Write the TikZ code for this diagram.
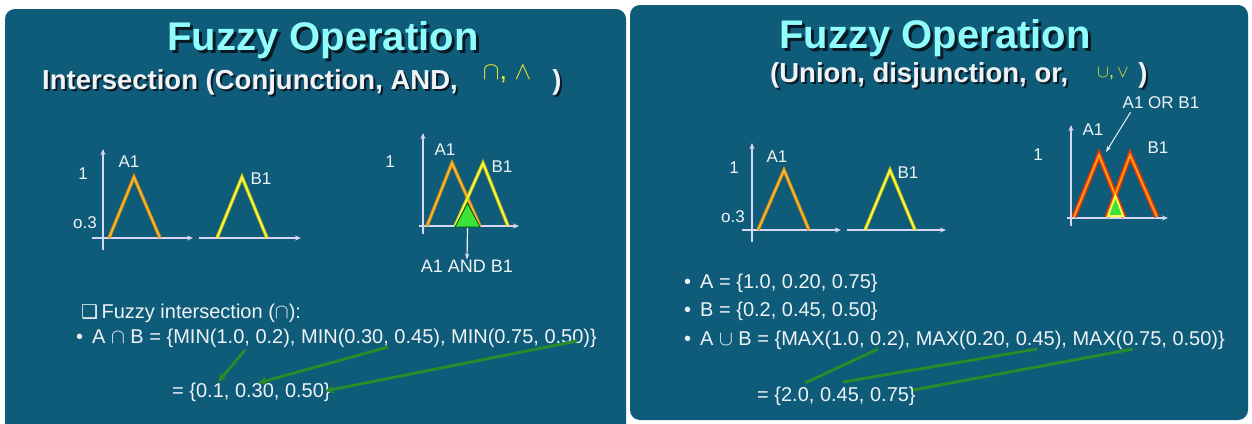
\documentclass[tikz,border=0pt]{standalone}
\usepackage{fontspec}
\setmainfont{Liberation Sans}
\newfontfamily\symfont{DejaVu Sans}
\usetikzlibrary{arrows.meta}
\definecolor{slide}{RGB}{14,92,122}
\definecolor{titlecyan}{RGB}{145,252,252}
\definecolor{shade}{RGB}{10,25,35}
\definecolor{axiscol}{RGB}{215,215,245}
\definecolor{txt}{RGB}{240,243,246}
\definecolor{symyellow}{RGB}{240,235,40}
\definecolor{aouter}{RGB}{215,140,20}
\definecolor{ainner}{RGB}{250,190,50}
\definecolor{bouter}{RGB}{205,200,10}
\definecolor{binner}{RGB}{255,255,90}
\definecolor{uouter}{RGB}{225,55,10}
\definecolor{uinner}{RGB}{255,160,20}
\definecolor{cutgreen}{RGB}{60,225,60}
\definecolor{linkgreen}{RGB}{40,140,40}
\tikzset{
  ttl/.style={font=\bfseries\fontsize{40}{44}\selectfont, inner sep=0pt},
  sub/.style={font=\bfseries\fontsize{27.5}{30}\selectfont, inner sep=0pt},
  lbl/.style={font=\fontsize{17}{19}\selectfont, text=txt, inner sep=0pt},
  body/.style={font=\fontsize{20}{22}\selectfont, text=txt, inner sep=0pt, anchor=west},
  axis/.style={draw=axiscol, line width=1.6pt, -{Stealth[length=6pt,width=5pt]}},
  aout/.style={draw=aouter, line width=3.4pt, line join=miter},
  ain/.style={draw=ainner, line width=1.3pt, line join=miter},
  bout/.style={draw=bouter, line width=3.4pt, line join=miter},
  bin/.style={draw=binner, line width=1.3pt, line join=miter},
  uout/.style={draw=uouter, line width=5pt, line join=miter},
  uin/.style={draw=uinner, line width=1.8pt, line join=miter},
  link/.style={draw=linkgreen, line width=2.8pt, -{Stealth[length=9pt,width=8pt]}},
  plainlink/.style={draw=linkgreen, line width=2.8pt},
  pointer/.style={draw=txt, line width=1pt, -{Stealth[length=6pt,width=4pt]}}
}
\begin{document}
\begin{tikzpicture}[x=1pt,y=-1pt]
\useasboundingbox (0,0) rectangle (1252,423);
\fill[white] (0,0) rectangle (1252,423);
% the two slide panels
\begin{scope}
  \clip (0,0) rectangle (1252,423);
  \fill[slide, rounded corners=10pt] (5,9) rectangle (626,445);
\end{scope}
\fill[slide, rounded corners=10pt] (630,5) rectangle (1248,420);

% ---------------- left slide: intersection ----------------
\node[ttl, text=shade] (lts) at (326,43) {Fuzzy Operation};
\node[ttl, text=titlecyan] (lt) at (323,40) {Fuzzy Operation};
\node[sub, text=shade, anchor=west] (lss) at (44,84) {Intersection (Conjunction, AND,};
\node[sub, text=txt, anchor=west] (ls) at (42,82) {Intersection (Conjunction, AND,};
\node[font=\fontsize{27}{29}\selectfont, text=symyellow, inner sep=0pt] (lsym) at (507,74) {$\cap$, $\wedge$};
\node[sub, text=shade] (lcps) at (559,84) {)};
\node[sub, text=txt] (lcp) at (557,82) {)};

% membership function A1
\coordinate (la0) at (103,250); \coordinate (la1) at (103,149);
\coordinate (lb0) at (92,238);  \coordinate (lb1) at (193,238);
\draw[axis] (la0) -- (la1);
\draw[axis] (lb0) -- (lb1);
\coordinate (a1l) at (109,238); \coordinate (a1p) at (134,177); \coordinate (a1r) at (160,238);
\draw[aout] (a1l) -- (a1p) -- (a1r);
\draw[ain] (a1l) -- (a1p) -- (a1r);
\node[lbl] (lone) at (83,174) {1};
\node[lbl] (lthree) at (85,223) {o.3};
\node[lbl] (la1t) at (129,162) {A1};

% membership function B1
\coordinate (lc0) at (199,238); \coordinate (lc1) at (301,238);
\draw[axis] (lc0) -- (lc1);
\coordinate (b1l) at (217,238); \coordinate (b1p) at (242,177); \coordinate (b1r) at (267,238);
\draw[bout] (b1l) -- (b1p) -- (b1r);
\draw[bin] (b1l) -- (b1p) -- (b1r);
\node[lbl] (lb1t) at (261,179) {B1};

% A1 and B1 together, with their intersection
\coordinate (ld0) at (423,234); \coordinate (ld1) at (423,133);
\coordinate (le0) at (419,226); \coordinate (le1) at (519,226);
\draw[axis] (ld0) -- (ld1);
\draw[axis] (le0) -- (le1);
\coordinate (ca1l) at (427,226); \coordinate (ca1p) at (452,163); \coordinate (ca1r) at (480,226);
\coordinate (cb1l) at (455,226); \coordinate (cb1p) at (483,163); \coordinate (cb1r) at (508,226);
\draw[aout] (ca1l) -- (ca1p) -- (ca1r);
\draw[ain] (ca1l) -- (ca1p) -- (ca1r);
\draw[bout] (cb1l) -- (cb1p) -- (cb1r);
\draw[bin] (cb1l) -- (cb1p) -- (cb1r);
\coordinate (gl) at (455,227); \coordinate (gt) at (467.5,203); \coordinate (gr) at (480,227);
\fill[cutgreen, draw=black!70!green, line width=0.8pt] (gl) -- (gt) -- (gr) -- cycle;
\node[lbl] (lcone) at (390,162) {1};
\node[lbl] (lca1) at (445,150) {A1};
\node[lbl] (lcb1) at (502,167) {B1};
\node[lbl, font=\fontsize{18}{20}\selectfont] (land) at (467,266) {A1 AND B1};
\coordinate (gdown) at (467.5,228);
\draw[pointer, line width=1.2pt] (gdown) -- (land.north);

% formulas
\node[body] (lf1) at (81,313) {{\symfont\fontsize{19}{21}\selectfont ❑}\,Fuzzy intersection ($\cap$):};
\node[body] (lf2) at (76,338) {\textbullet\hspace{9pt}A $\cap$ B = \{MIN(1.0, 0.2), MIN(0.30, 0.45), MIN(0.75, 0.50)\}};
\node[body] (lf3) at (172,392) {= \{0.1, 0.30, 0.50\}};
\coordinate (lm1) at (245,350); \coordinate (lr1) at (218,382);
\coordinate (lm2) at (388,347); \coordinate (lr2) at (258,383);
\coordinate (lm3) at (577,341); \coordinate (lr3) at (325,391);
\draw[link] (lm1) -- (lr1);
\draw[link] (lm2) -- (lr2);
\draw[link] (lm3) -- (lr3);

% ---------------- right slide: union ----------------
\node[ttl, text=shade] (rts) at (938,41) {Fuzzy Operation};
\node[ttl, text=titlecyan] (rt) at (935,38) {Fuzzy Operation};
\node[sub, text=shade, anchor=west] (rss) at (772,77) {(Union, disjunction, or,};
\node[sub, text=txt, anchor=west] (rs) at (770,75) {(Union, disjunction, or,};
\node[font=\fontsize{18}{20}\selectfont, text=symyellow, inner sep=0pt] (rsym) at (1113,74) {$\cup$,\,$\vee$};
\node[sub, text=shade] (rcps) at (1145,77) {)};
\node[sub, text=txt] (rcp) at (1143,75) {)};

% membership function A1
\coordinate (ra0) at (752,242); \coordinate (ra1) at (752,143);
\coordinate (rb0) at (742,230); \coordinate (rb1) at (841,230);
\draw[axis] (ra0) -- (ra1);
\draw[axis] (rb0) -- (rb1);
\coordinate (ra1l) at (758,230); \coordinate (ra1p) at (784,170); \coordinate (ra1r) at (809,230);
\draw[aout] (ra1l) -- (ra1p) -- (ra1r);
\draw[ain] (ra1l) -- (ra1p) -- (ra1r);
\node[lbl] (rone) at (734,168) {1};
\node[lbl] (rthree) at (733,217) {o.3};
\node[lbl] (ra1t) at (777,157) {A1};

% membership function B1
\coordinate (rc0) at (847,230); \coordinate (rc1) at (946,230);
\draw[axis] (rc0) -- (rc1);
\coordinate (rb1l) at (865,230); \coordinate (rb1p) at (890,170); \coordinate (rb1r) at (915,230);
\draw[bout] (rb1l) -- (rb1p) -- (rb1r);
\draw[bin] (rb1l) -- (rb1p) -- (rb1r);
\node[lbl] (rb1t) at (908,173) {B1};

% A1 and B1 together, with their union
\coordinate (rd0) at (1071,226); \coordinate (rd1) at (1071,125);
\coordinate (re0) at (1067,218); \coordinate (re1) at (1168,218);
\draw[axis] (rd0) -- (rd1);
\draw[axis] (re0) -- (re1);
\coordinate (ua1l) at (1074,217); \coordinate (ua1p) at (1099,155); \coordinate (ua1r) at (1124,217);
\coordinate (ub1l) at (1107,217); \coordinate (ub1p) at (1130,155); \coordinate (ub1r) at (1157,217);
\draw[uout] (ua1l) -- (ua1p) -- (ua1r);
\draw[uout] (ub1l) -- (ub1p) -- (ub1r);
\draw[uin] (ua1l) -- (ua1p) -- (ua1r);
\draw[uin] (ub1l) -- (ub1p) -- (ub1r);
\coordinate (ugl) at (1108,216); \coordinate (ugt) at (1115.5,196); \coordinate (ugr) at (1123,216);
\fill[cutgreen, draw=binner, line width=1.6pt] (ugl) -- (ugt) -- (ugr) -- cycle;
\node[lbl] (rcone) at (1038,155) {1};
\node[lbl] (rca1) at (1093,130) {A1};
\node[lbl] (rcb1) at (1158,148) {B1};
\node[lbl] (ror) at (1161,103) {A1 OR B1};
\coordinate (rpeak) at (1106,152);
\draw[pointer] (ror.south west) ++(8,3) coordinate (rstart) -- (rpeak);

% formulas
\node[body] (rf1) at (684,283) {\textbullet\hspace{9pt}A = \{1.0, 0.20, 0.75\}};
\node[body] (rf2) at (684,311) {\textbullet\hspace{9pt}B = \{0.2, 0.45, 0.50\}};
\node[body] (rf3) at (684,340) {\textbullet\hspace{9pt}A $\cup$ B = \{MAX(1.0, 0.2), MAX(0.20, 0.45), MAX(0.75, 0.50)\}};
\node[body] (rf4) at (757,396) {= \{2.0, 0.45, 0.75\}};
\coordinate (rm1) at (878,349); \coordinate (rr1) at (805,383);
\coordinate (rm2) at (1037,349); \coordinate (rr2) at (843,382);
\coordinate (rm3) at (1133,349); \coordinate (rr3) at (913,390);
\draw[plainlink] (rm1) -- (rr1);
\draw[plainlink] (rm2) -- (rr2);
\draw[plainlink] (rm3) -- (rr3);
\end{tikzpicture}
\end{document}
